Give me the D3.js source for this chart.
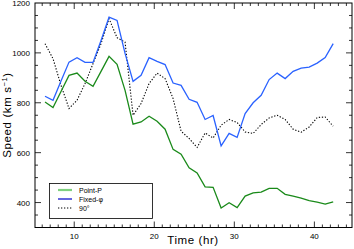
<!DOCTYPE html>
<html>
<head>
<meta charset="utf-8">
<script src="https://cdn.jsdelivr.net/npm/d3@7"></script>
<style>
  body { margin: 0; background: #fff; }
  svg { display: block; font-family: "Liberation Sans", Arial, sans-serif; }
</style>
</head>
<body>
<div id="chart-area"></div>
<script>
// time in hours
var times = [6.35, 7.35, 8.35, 9.35, 10.35, 11.35, 12.35, 13.35, 14.35, 15.35,
	16.35, 17.35, 18.35, 19.35, 20.35, 21.35, 22.35, 23.35, 24.35, 25.35,
	26.35, 27.35, 28.35, 29.35, 30.35, 31.35, 32.35, 33.35, 34.35, 35.35,
	36.35, 37.35, 38.35, 39.35, 40.35, 41.35, 42.35];

// speed (km/s)
var pointP = [803, 781, 845, 910, 919, 886, 866, 926, 986, 954,
	850, 714, 723, 746, 726, 694, 613, 594, 539, 519,
	463, 461, 378, 399, 380, 426, 439, 442, 457, 457,
	433, 426, 418, 408, 402, 394, 403];

var fixedPhi = [826, 810, 887, 963, 981, 962, 962, 1050, 1143, 1130,
	998, 886, 910, 981, 966, 953, 879, 870, 814, 802,
	733, 749, 627, 677, 661, 757, 800, 830, 893, 919,
	897, 926, 939, 943, 959, 981, 1037];

var deg90 = [1037, 977, 870, 777, 810, 877, 957, 1037, 1137, 1061,
	1043, 750, 797, 877, 919, 897, 817, 686, 657, 621,
	679, 659, 710, 733, 721, 683, 677, 713, 739, 750,
	733, 694, 682, 703, 741, 743, 706];

var xTicks = [10, 20, 30, 40];
var yTicks = [400, 600, 800, 1000, 1200];
var legendNames = ["Point-P", "Fixed-\u03c6", "90\u00b0"];

var width = 354, height = 249;
var margin = {top: 3, right: 2, bottom: 21, left: 35};

var svg = d3.select("#chart-area").append("svg")
	.attr("width", width)
	.attr("height", height);

var x = d3.scaleLinear().domain([5.1, 44.7]).range([margin.left, width - margin.right]);
var y = d3.scaleLinear().domain([300, 1200]).range([height - margin.bottom - 0.5, margin.top]);

var x0 = x.range()[0], x1 = x.range()[1], y0 = y.range()[0], y1 = y.range()[1];

// frame
svg.append("rect")
	.attr("x", x0).attr("y", y1)
	.attr("width", x1 - x0).attr("height", y0 - y1)
	.attr("fill", "none").attr("stroke", "#000").attr("stroke-width", 1);

// minor / major ticks
var xMinor = d3.range(6, 45, 1);
var yMinor = d3.range(350, 1200, 50);

var tickG = svg.append("g").attr("stroke", "#000").attr("stroke-width", 0.8);
xMinor.forEach(function(t) {
	var len = (t % 10 === 0) ? 6 : 3;
	tickG.append("line").attr("x1", x(t)).attr("x2", x(t)).attr("y1", y0).attr("y2", y0 - len);
	tickG.append("line").attr("x1", x(t)).attr("x2", x(t)).attr("y1", y1).attr("y2", y1 + len);
});
yMinor.forEach(function(v) {
	var len = (v % 200 === 0) ? 6 : 3;
	tickG.append("line").attr("y1", y(v)).attr("y2", y(v)).attr("x1", x0).attr("x2", x0 + len);
	tickG.append("line").attr("y1", y(v)).attr("y2", y(v)).attr("x1", x1).attr("x2", x1 - len);
});

// tick labels
svg.selectAll(".xlab").data(xTicks).enter().append("text")
	.attr("class", "xlab")
	.attr("x", function(d) { return x(d); })
	.attr("y", 239)
	.attr("text-anchor", "middle")
	.attr("font-size", 8)
	.text(function(d) { return d; });

svg.selectAll(".ylab").data(yTicks).enter().append("text")
	.attr("class", "ylab")
	.attr("x", 30)
	.attr("y", function(d) { return y(d) + 3; })
	.attr("text-anchor", "end")
	.attr("font-size", 8)
	.text(function(d) { return d; });

// axis titles
svg.append("text")
	.attr("x", 193).attr("y", 244)
	.attr("text-anchor", "middle")
	.attr("font-size", 11.5)
	.attr("letter-spacing", 0.6)
	.text("Time (hr)");

var yt = svg.append("text")
	.attr("transform", "translate(11,115) rotate(-90)")
	.attr("text-anchor", "middle")
	.attr("font-size", 11.5)
	.attr("letter-spacing", 0.6);
yt.append("tspan").text("Speed (km s");
yt.append("tspan").attr("baseline-shift", "super").attr("font-size", 7.5).text("\u22121");
yt.append("tspan").text(")");

// lines
var line = d3.line()
	.x(function(d, i) { return x(times[i]); })
	.y(function(d) { return y(d); });

var plot = svg.append("g");
plot.append("path").datum(deg90).attr("d", line)
	.attr("fill", "none").attr("stroke", "#000").attr("stroke-width", 1.1)
	.attr("stroke-dasharray", "1.3,1.7");
plot.append("path").datum(fixedPhi).attr("d", line)
	.attr("fill", "none").attr("stroke", "#2a62ff").attr("stroke-width", 1.3);
plot.append("path").datum(pointP).attr("d", line)
	.attr("fill", "none").attr("stroke", "#1a8a1a").attr("stroke-width", 1.3);

// legend
var leg = svg.append("g");
leg.append("rect")
	.attr("x", 49.5).attr("y", 183.5).attr("width", 103).attr("height", 35)
	.attr("fill", "#fff").attr("stroke", "#000").attr("stroke-width", 0.8);
var legStyle = [
	{color: "#7fd07f", w: 2.2, dash: null},
	{color: "#0000c8", w: 1.2, dash: null},
	{color: "#000", w: 1, dash: "1.3,1.7"}
];
legendNames.forEach(function(name, i) {
	var ly = 190 + i * 9;
	leg.append("line")
		.attr("x1", 58).attr("x2", 72).attr("y1", ly).attr("y2", ly)
		.attr("stroke", legStyle[i].color).attr("stroke-width", legStyle[i].w)
		.attr("stroke-dasharray", legStyle[i].dash);
	leg.append("text")
		.attr("x", 79).attr("y", ly + 2.5)
		.attr("font-size", 7)
		.text(name);
});
</script>
</body>
</html>
